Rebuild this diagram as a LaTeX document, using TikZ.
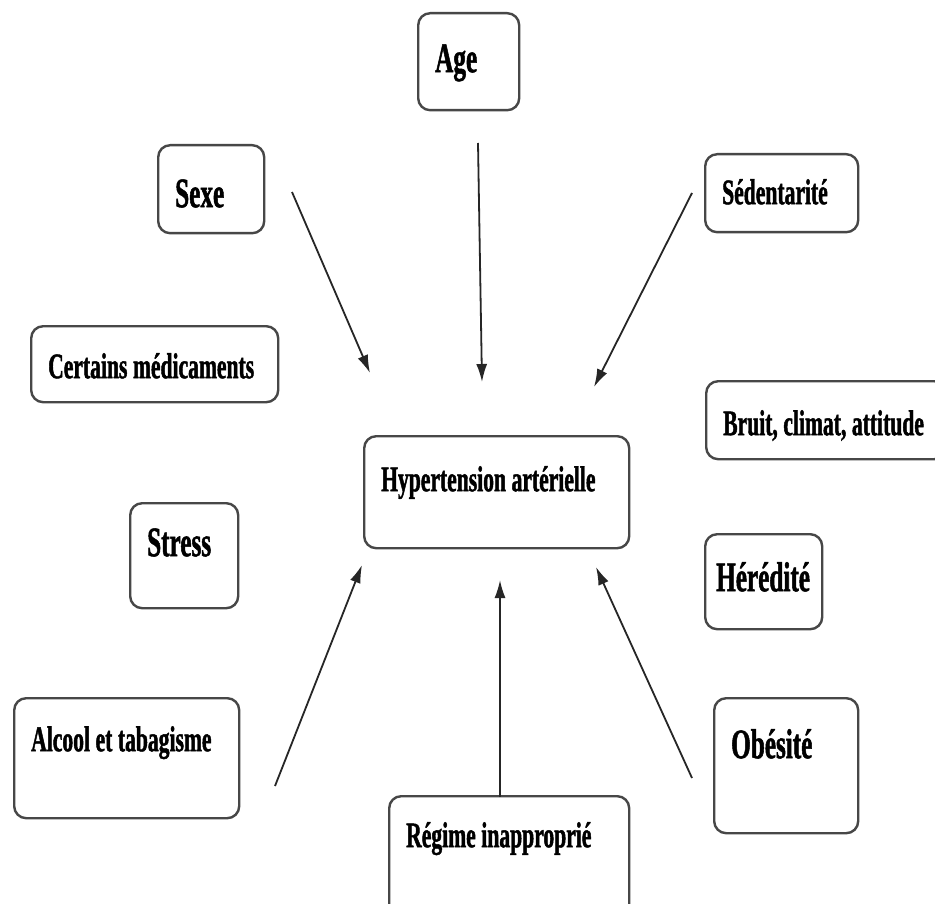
\documentclass[tikz,border=0pt]{standalone}
\usepackage{fontspec}
\setmainfont{Liberation Serif}[FakeStretch=0.6, BoldFeatures={FakeBold=1.2}]
\usetikzlibrary{arrows.meta}
\newcommand{\causefont}{\fontsize{36pt}{40pt}\selectfont\bfseries}
\newcommand{\bigcausefont}{\fontsize{42pt}{46pt}\selectfont\bfseries}

\begin{document}
\begin{tikzpicture}[x=1pt,y=-1pt,
  factor/.style={shape=rectangle, draw=black!72, line width=2.4pt, rounded corners=12pt,
    anchor=north west, inner xsep=17pt, inner ysep=0pt, align=left, font=\causefont,
    execute at begin node={\spaceskip=0.155em\leavevmode\hbox\bgroup}, execute at end node={\egroup}},
  big factor/.style={factor, font=\bigcausefont},
  cause/.style={-{Latex[length=18pt,width=11pt]}, line width=1.8pt, black!85}]
\clip (0,0) rectangle (935,904);
\fill[white] (0,0) rectangle (935,904);
% risk factors
\node[big factor, text width=67pt, text height=59pt, text depth=38pt] (age) at (417,12) {Age};
\node[big factor, text width=72pt, text height=62pt, text depth=26pt] (sexe) at (157,144) {Sexe};
\node[factor, text width=119pt, text height=50pt, text depth=28pt] (sed) at (704,153) {Sédentarité};
\node[factor, text width=213pt, text height=52pt, text depth=24pt] (med) at (30,325) {Certains médicaments};
\node[factor, text width=206pt, text height=54pt, text depth=24pt] (bruit) at (705,380) {Bruit, climat, attitude};
\node[big factor, text width=74pt, text height=53pt, text depth=52pt] (stress) at (129,502) {Stress};
\node[big factor, inner xsep=11pt, text width=95pt, text height=57pt, text depth=38pt] (hered) at (704,533) {Hérédité};
\node[factor, text width=191pt, text height=53pt, text depth=67pt] (alcool) at (13,697) {Alcool et tabagisme};
\node[factor, text width=206pt, text height=51pt, text depth=69pt] (regime) at (388,795) {Régime inapproprié};
\node[big factor, text width=110pt, text height=60pt, text depth=75pt] (obes) at (713,697) {Obésité};
% disease
\node[factor, text width=231pt, text height=55pt, text depth=57pt] (hta) at (363,435) {Hypertension artérielle};
% arrows
\coordinate (age-tail) at (478,143);    \coordinate (age-tip) at (482,382);
\coordinate (sexe-tail) at (292,192);   \coordinate (sexe-tip) at (370,373);
\coordinate (sed-tail) at (692,193);    \coordinate (sed-tip) at (594,387);
\coordinate (alcool-tail) at (275,786); \coordinate (alcool-tip) at (362,565);
\coordinate (regime-tail) at (500,797); \coordinate (regime-tip) at (500,580);
\coordinate (obes-tail) at (692,778);   \coordinate (obes-tip) at (596,567);
\foreach \f in {age,sexe,sed,alcool,regime,obes}
  { \draw[cause] (\f-tail) -- (\f-tip); }
\end{tikzpicture}
\end{document}
